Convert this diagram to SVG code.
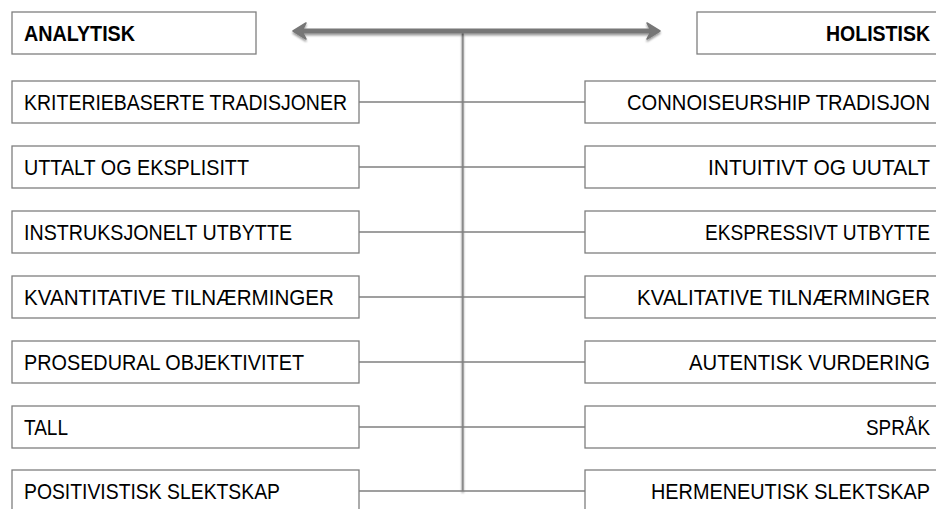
<svg xmlns="http://www.w3.org/2000/svg" width="936" height="509" viewBox="0 0 936 509">
<defs>
<style>
.box{fill:#fff;stroke:#7f7f7f;stroke-width:1.3}
.t{font-family:"Liberation Sans",Arial,sans-serif;font-size:22px;fill:#000}
.b{font-weight:bold}
.r{text-anchor:end}
.c{stroke:#7f7f7f;stroke-width:1.3;fill:none}
</style>
<filter id="sh" filterUnits="userSpaceOnUse" x="0" y="0" width="936" height="509">
<feGaussianBlur in="SourceAlpha" stdDeviation="1.2"/>
<feOffset dx="0" dy="1.5" result="o"/>
<feComponentTransfer><feFuncA type="linear" slope="0.4"/></feComponentTransfer>
<feMerge><feMergeNode/><feMergeNode in="SourceGraphic"/></feMerge>
</filter>
</defs>
<rect width="936" height="509" fill="#fff"/>
<g id="connectors">
<rect x="461.7" y="33" width="2" height="458" fill="#8a8a8a" filter="url(#sh)"/>
<line class="c" x1="359" y1="102" x2="585" y2="102"/>
<line class="c" x1="359" y1="167" x2="585" y2="167"/>
<line class="c" x1="359" y1="232" x2="585" y2="232"/>
<line class="c" x1="359" y1="297" x2="585" y2="297"/>
<line class="c" x1="359" y1="362" x2="585" y2="362"/>
<line class="c" x1="359" y1="427" x2="585" y2="427"/>
<line class="c" x1="359" y1="491" x2="585" y2="491"/>
<g id="arrow" filter="url(#sh)">
<line x1="300" y1="31" x2="653" y2="31" stroke="#777" stroke-width="5"/>
<path d="M293,31 L306,23 L302,31 L306,39 Z" fill="#777" stroke="#777" stroke-width="1.5" stroke-linejoin="round"/>
<path d="M660,31 L647,23 L651,31 L647,39 Z" fill="#777" stroke="#777" stroke-width="1.5" stroke-linejoin="round"/>
</g>
</g>
<g id="analytisk"><rect class="box" x="12" y="12" width="244" height="42"/><text class="t b" x="24" y="41" textLength="111" lengthAdjust="spacingAndGlyphs">ANALYTISK</text></g>
<g id="holistisk"><rect class="box" x="697" y="12" width="241" height="42"/><text class="t b r" x="930" y="41" textLength="104" lengthAdjust="spacingAndGlyphs">HOLISTISK</text></g>
<g id="l1"><rect class="box" x="12" y="81" width="347" height="42"/><text class="t" x="24" y="110" textLength="323" lengthAdjust="spacingAndGlyphs">KRITERIEBASERTE TRADISJONER</text></g>
<g id="l2"><rect class="box" x="12" y="146" width="347" height="42"/><text class="t" x="24" y="175" textLength="225" lengthAdjust="spacingAndGlyphs">UTTALT OG EKSPLISITT</text></g>
<g id="l3"><rect class="box" x="12" y="211" width="347" height="42"/><text class="t" x="24" y="240" textLength="268" lengthAdjust="spacingAndGlyphs">INSTRUKSJONELT UTBYTTE</text></g>
<g id="l4"><rect class="box" x="12" y="276" width="347" height="42"/><text class="t" x="24" y="305" textLength="310" lengthAdjust="spacingAndGlyphs">KVANTITATIVE TILNÆRMINGER</text></g>
<g id="l5"><rect class="box" x="12" y="341" width="347" height="42"/><text class="t" x="24" y="370" textLength="280" lengthAdjust="spacingAndGlyphs">PROSEDURAL OBJEKTIVITET</text></g>
<g id="l6"><rect class="box" x="12" y="406" width="347" height="42"/><text class="t" x="24" y="435" textLength="44" lengthAdjust="spacingAndGlyphs">TALL</text></g>
<g id="l7"><rect class="box" x="12" y="470" width="347" height="42"/><text class="t" x="24" y="499" textLength="256" lengthAdjust="spacingAndGlyphs">POSITIVISTISK SLEKTSKAP</text></g>
<g id="r1"><rect class="box" x="585" y="81" width="353" height="42"/><text class="t r" x="930" y="110" textLength="303" lengthAdjust="spacingAndGlyphs">CONNOISEURSHIP TRADISJON</text></g>
<g id="r2"><rect class="box" x="585" y="146" width="353" height="42"/><text class="t r" x="930" y="175" textLength="222" lengthAdjust="spacingAndGlyphs">INTUITIVT OG UUTALT</text></g>
<g id="r3"><rect class="box" x="585" y="211" width="353" height="42"/><text class="t r" x="930" y="240" textLength="225" lengthAdjust="spacingAndGlyphs">EKSPRESSIVT UTBYTTE</text></g>
<g id="r4"><rect class="box" x="585" y="276" width="353" height="42"/><text class="t r" x="930" y="305" textLength="293" lengthAdjust="spacingAndGlyphs">KVALITATIVE TILNÆRMINGER</text></g>
<g id="r5"><rect class="box" x="585" y="341" width="353" height="42"/><text class="t r" x="930" y="370" textLength="241" lengthAdjust="spacingAndGlyphs">AUTENTISK VURDERING</text></g>
<g id="r6"><rect class="box" x="585" y="406" width="353" height="42"/><text class="t r" x="930" y="435" textLength="64" lengthAdjust="spacingAndGlyphs">SPRÅK</text></g>
<g id="r7"><rect class="box" x="585" y="470" width="353" height="42"/><text class="t r" x="930" y="499" textLength="279" lengthAdjust="spacingAndGlyphs">HERMENEUTISK SLEKTSKAP</text></g>
</svg>
